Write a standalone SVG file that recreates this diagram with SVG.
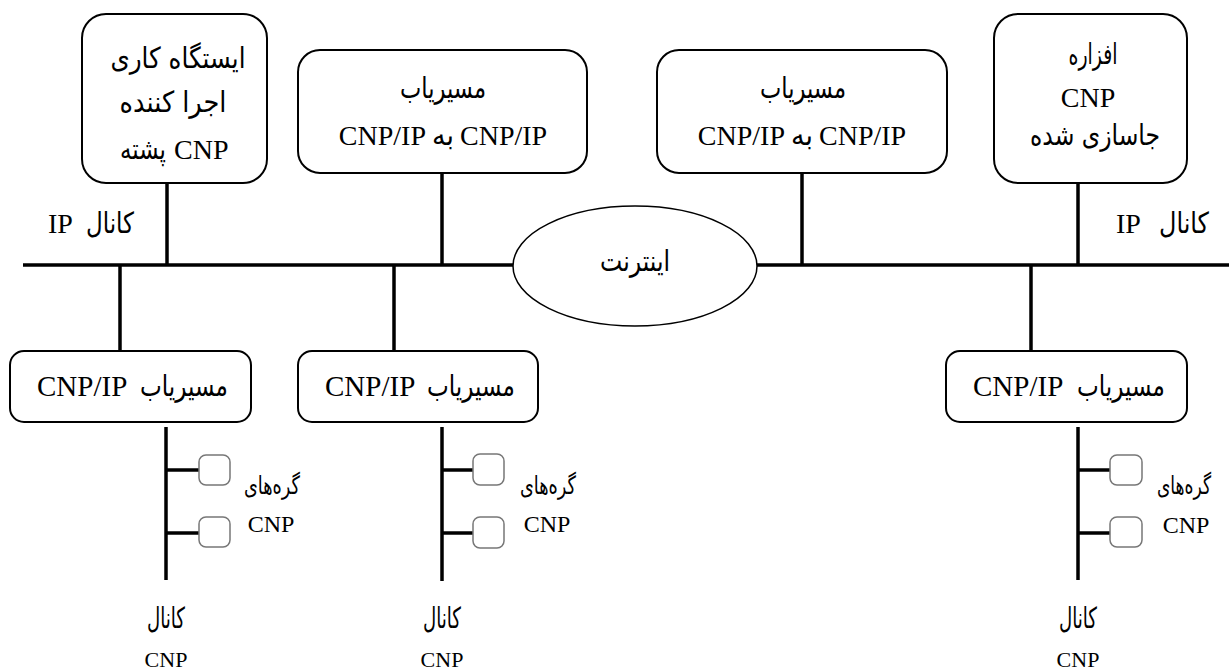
<svg xmlns="http://www.w3.org/2000/svg" width="1229" height="671" viewBox="0 0 1229 671">
<defs>
<style>
.box{fill:#fff;stroke:#000;stroke-width:2}
.sub{fill:#fff;stroke:#777;stroke-width:1.5}
.ln{stroke:#000;stroke-width:3.5;fill:none}
text{fill:#000;text-anchor:middle}
.la{font-family:"Liberation Serif","Times New Roman",serif}
.ar{font-family:"DejaVu Sans","Noto Sans",sans-serif;font-size:29px}
.nl{font-size:25px}
.st{text-anchor:start}
.en{text-anchor:end}
</style>
</defs>
<rect width="1229" height="671" fill="#fff"/>
<g id="connectors">
<line class="ln" x1="23" y1="265" x2="1229" y2="265"/>
<line class="ln" x1="167" y1="183" x2="167" y2="265"/>
<line class="ln" x1="442" y1="173" x2="442" y2="265"/>
<line class="ln" x1="802" y1="173" x2="802" y2="265"/>
<line class="ln" x1="1078" y1="183" x2="1078" y2="265"/>
<line class="ln" x1="120" y1="265" x2="120" y2="351"/>
<line class="ln" x1="394" y1="265" x2="394" y2="351"/>
<line class="ln" x1="1031" y1="265" x2="1031" y2="351"/>
<line class="ln" x1="166" y1="427" x2="166" y2="580"/>
<line class="ln" x1="166" y1="470" x2="199" y2="470"/>
<line class="ln" x1="166" y1="533" x2="199" y2="533"/>
<line class="ln" x1="442" y1="427" x2="442" y2="581"/>
<line class="ln" x1="442" y1="470" x2="473" y2="470"/>
<line class="ln" x1="442" y1="533" x2="473" y2="533"/>
<line class="ln" x1="1078" y1="427" x2="1078" y2="580"/>
<line class="ln" x1="1078" y1="470" x2="1110" y2="470"/>
<line class="ln" x1="1078" y1="533" x2="1110" y2="533"/>
</g>
<g id="internet">
<ellipse cx="635" cy="266" rx="122" ry="60" fill="#fff" stroke="#000" stroke-width="1.5"/>
<text class="ar" x="635" y="271" textLength="70" lengthAdjust="spacingAndGlyphs">اینترنت</text>
</g>
<g id="workstation">
<rect class="box" x="82" y="14" width="185" height="169" rx="24"/>
<text class="ar" x="178" y="68" textLength="135" lengthAdjust="spacingAndGlyphs">ایستگاه کاری</text>
<text class="ar" x="173" y="112" textLength="107" lengthAdjust="spacingAndGlyphs">اجرا کننده</text>
<text class="ar" x="143" y="159" textLength="46" lengthAdjust="spacingAndGlyphs">پشته</text>
<text class="la st" x="174" y="159" font-size="28">CNP</text>
</g>
<g id="router-top-1">
<rect class="box" x="298" y="50" width="289" height="123" rx="22"/>
<text class="ar" x="443" y="98" textLength="86" lengthAdjust="spacingAndGlyphs">مسیریاب</text>
<text class="la en" x="426" y="145" font-size="28">CNP/IP</text>
<text class="ar" x="443" y="145" textLength="22" lengthAdjust="spacingAndGlyphs">به</text>
<text class="la st" x="460" y="145" font-size="28">CNP/IP</text>
</g>
<g id="router-top-2">
<rect class="box" x="657" y="50" width="290" height="123" rx="22"/>
<text class="ar" x="803" y="98" textLength="86" lengthAdjust="spacingAndGlyphs">مسیریاب</text>
<text class="la en" x="785" y="145" font-size="28">CNP/IP</text>
<text class="ar" x="802" y="145" textLength="22" lengthAdjust="spacingAndGlyphs">به</text>
<text class="la st" x="819" y="145" font-size="28">CNP/IP</text>
</g>
<g id="cnp-hardware">
<rect class="box" x="994" y="14" width="193" height="169" rx="24"/>
<text class="ar" x="1093" y="64" textLength="49" lengthAdjust="spacingAndGlyphs">افزاره</text>
<text class="la" x="1088" y="107" font-size="28">CNP</text>
<text class="ar" x="1095" y="145" textLength="130" lengthAdjust="spacingAndGlyphs">جاسازی شده</text>
</g>
<g id="ip-label-left">
<text class="la st" x="48" y="233" font-size="28">IP</text>
<text class="ar" x="110" y="233" textLength="48" lengthAdjust="spacingAndGlyphs">کانال</text>
</g>
<g id="ip-label-right">
<text class="la st" x="1116" y="233" font-size="28">IP</text>
<text class="ar" x="1184" y="233" textLength="50" lengthAdjust="spacingAndGlyphs">کانال</text>
</g>
<g id="router-bottom-1">
<rect class="box" x="10" y="351" width="241" height="71" rx="14"/>
<text class="la st" x="37" y="396" font-size="29">CNP/IP</text>
<text class="ar" x="184" y="396" textLength="88" lengthAdjust="spacingAndGlyphs">مسیریاب</text>
</g>
<g id="router-bottom-2">
<rect class="box" x="298" y="351" width="240" height="71" rx="14"/>
<text class="la st" x="325" y="396" font-size="29">CNP/IP</text>
<text class="ar" x="471" y="396" textLength="88" lengthAdjust="spacingAndGlyphs">مسیریاب</text>
</g>
<g id="router-bottom-3">
<rect class="box" x="946" y="351" width="241" height="71" rx="14"/>
<text class="la st" x="973" y="396" font-size="29">CNP/IP</text>
<text class="ar" x="1121" y="396" textLength="88" lengthAdjust="spacingAndGlyphs">مسیریاب</text>
</g>
<g id="nodes-1">
<rect class="sub" x="199" y="455" width="31" height="30" rx="7"/>
<rect class="sub" x="199" y="517" width="31" height="30" rx="7"/>
<text class="ar nl" x="272" y="494" textLength="56" lengthAdjust="spacingAndGlyphs">گره‌های</text>
<text class="la" x="271" y="532" font-size="24">CNP</text>
</g>
<g id="nodes-2">
<rect class="sub" x="473" y="454" width="31" height="31" rx="7"/>
<rect class="sub" x="473" y="517" width="31" height="31" rx="7"/>
<text class="ar nl" x="548" y="494" textLength="56" lengthAdjust="spacingAndGlyphs">گره‌های</text>
<text class="la" x="547" y="532" font-size="24">CNP</text>
</g>
<g id="nodes-3">
<rect class="sub" x="1110" y="455" width="32" height="30" rx="7"/>
<rect class="sub" x="1110" y="517" width="32" height="30" rx="7"/>
<text class="ar nl" x="1184" y="494" textLength="54" lengthAdjust="spacingAndGlyphs">گره‌های</text>
<text class="la" x="1186" y="533" font-size="24">CNP</text>
</g>
<g id="channel-1">
<text class="ar" x="166" y="628" textLength="38" lengthAdjust="spacingAndGlyphs">کانال</text>
<text class="la" x="166" y="667" font-size="22">CNP</text>
</g>
<g id="channel-2">
<text class="ar" x="442" y="628" textLength="38" lengthAdjust="spacingAndGlyphs">کانال</text>
<text class="la" x="442" y="667" font-size="22">CNP</text>
</g>
<g id="channel-3">
<text class="ar" x="1078" y="628" textLength="38" lengthAdjust="spacingAndGlyphs">کانال</text>
<text class="la" x="1078" y="667" font-size="22">CNP</text>
</g>
</svg>
